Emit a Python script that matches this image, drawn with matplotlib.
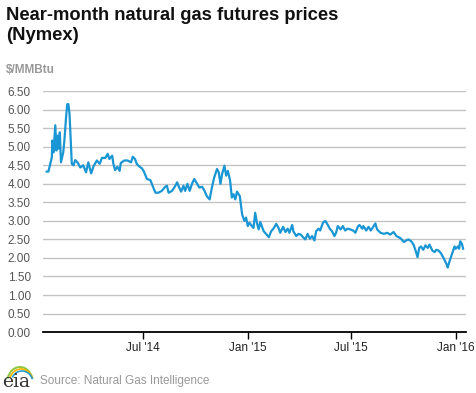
import numpy as np
import pandas as pd
import matplotlib
matplotlib.use("Agg")
import matplotlib.pyplot as plt
from matplotlib.patches import Arc

plt.rcParams['font.family'] = ['Liberation Sans', 'DejaVu Sans']

# days since 2014-01-01
day_offset = [12, 15, 21, 22, 24, 27, 29, 31, 33, 35, 37, 41, 43, 46, 48, 50, 52, 56, 59, 62,
              66, 71, 76, 81, 85, 90, 94, 100, 105, 109, 115, 119, 122, 127, 129, 132, 136, 140, 142, 148,
              154, 160, 163, 167, 170, 175, 179, 182, 188, 194, 199, 203, 208, 214, 220, 223, 226, 232, 236, 241,
              244, 248, 252, 255, 259, 263, 267, 271, 276, 280, 285, 289, 293, 298, 302, 306, 311, 314, 317, 320,
              324, 327, 330, 334, 337, 340, 343, 346, 351, 355, 359, 362, 365, 368, 372, 375, 378, 381, 384, 387,
              390, 393, 398, 402, 406, 410, 415, 419, 422, 427, 431, 435, 438, 443, 445, 450, 454, 458, 462, 466,
              470, 474, 478, 482, 485, 489, 492, 497, 501, 504, 509, 513, 517, 520, 523, 528, 532, 536, 540, 545,
              550, 554, 558, 561, 566, 568, 573, 577, 581, 586, 589, 592, 598, 604, 610, 615, 621, 626, 630, 634,
              639, 643, 647, 652, 656, 660, 663, 666, 669, 673, 677, 681, 684, 689, 693, 696, 700, 704, 709, 714,
              716, 719, 724, 728, 730, 734, 736, 738, 741, 743]
price = [4.33, 4.33, 4.72, 5.17, 4.85, 5.58, 4.90, 5.30, 4.95, 5.39, 4.58, 4.85, 5.17, 5.80, 6.15, 6.15, 5.90, 4.54, 4.50, 4.64,
         4.58, 4.44, 4.50, 4.31, 4.58, 4.28, 4.47, 4.63, 4.54, 4.70, 4.70, 4.81, 4.67, 4.76, 4.54, 4.37, 4.46, 4.35, 4.56, 4.63,
         4.63, 4.58, 4.73, 4.67, 4.54, 4.46, 4.42, 4.35, 4.13, 4.10, 3.90, 3.76, 3.76, 3.81, 3.92, 3.95, 3.76, 3.81, 3.90, 4.04,
         3.92, 3.79, 3.95, 3.81, 4.00, 3.81, 4.00, 4.13, 4.00, 3.90, 3.92, 3.81, 3.67, 3.58, 3.90, 4.17, 4.40, 4.31, 4.00, 4.27,
         4.49, 4.22, 4.35, 4.08, 3.63, 3.72, 3.58, 3.79, 3.67, 3.18, 3.00, 3.09, 2.86, 2.95, 2.86, 2.81, 3.22, 2.95, 2.77, 2.97,
         2.84, 2.72, 2.63, 2.56, 2.72, 2.79, 2.92, 2.81, 2.68, 2.84, 2.70, 2.79, 2.68, 2.89, 2.72, 2.59, 2.65, 2.63, 2.56, 2.50,
         2.65, 2.52, 2.59, 2.47, 2.72, 2.79, 2.74, 2.95, 3.00, 2.93, 2.79, 2.72, 2.59, 2.68, 2.86, 2.77, 2.86, 2.74, 2.79, 2.77,
         2.74, 2.68, 2.84, 2.89, 2.79, 2.86, 2.74, 2.84, 2.74, 2.86, 2.93, 2.77, 2.68, 2.65, 2.68, 2.63, 2.70, 2.59, 2.56, 2.52,
         2.43, 2.47, 2.50, 2.45, 2.36, 2.18, 2.02, 2.27, 2.31, 2.22, 2.34, 2.27, 2.36, 2.20, 2.16, 2.22, 2.20, 2.13, 1.99, 1.83,
         1.74, 1.90, 2.13, 2.31, 2.25, 2.31, 2.25, 2.45, 2.38, 2.25]

y_ticks = np.arange(0, 6.51, 0.5)
x_tick_dates = ['2014-07-01', '2015-01-01', '2015-07-01', '2016-01-01']
x_tick_labels = ["Jul '14", "Jan '15", "Jul '15", "Jan '16"]

dates = pd.Timestamp('2014-01-01') + pd.to_timedelta(day_offset, unit='D')

fig = plt.figure(figsize=(4.77, 3.93), dpi=100)
ax = fig.add_axes([0.0908, 0.155, 0.886, 0.613])

ax.plot(dates, price, color='#1a96d4', linewidth=1.6, solid_joinstyle='round')

ax.set_ylim(0, 6.5)
ax.set_xlim(pd.Timestamp('2014-01-07'), pd.Timestamp('2016-01-19'))
ax.set_yticks(y_ticks)
ax.set_yticklabels(['%.2f' % v for v in y_ticks])
ax.set_xticks(pd.to_datetime(x_tick_dates))
ax.set_xticklabels(x_tick_labels)

ax.grid(axis='y', color='#c4c4c4', linewidth=1)
ax.set_axisbelow(True)
for s in ['top', 'right', 'left']:
    ax.spines[s].set_visible(False)
ax.spines['bottom'].set_color('black')
ax.spines['bottom'].set_linewidth(1.3)
ax.tick_params(axis='y', length=0, pad=9, labelsize=8.5, labelcolor='#555555')
ax.tick_params(axis='x', length=5, width=1, color='black', pad=2, labelsize=8.5, labelcolor='#222222')

fig.text(0.013, 0.948, 'Near-month natural gas futures prices', fontsize=13.2, fontweight='bold',
         color='#111111', va='baseline')
fig.text(0.013, 0.898, '(Nymex)', fontsize=13.2, fontweight='bold', color='#111111', va='baseline')
fig.text(0.013, 0.814, '$/MMBtu', fontsize=8.5, fontweight='bold', color='#999999', va='baseline')

# eia logo and source
fig.text(0.004, 0.004, 'eia', fontsize=13.5, family='DejaVu Serif', color='#333333', va='bottom')
logo_ax = fig.add_axes([0.0, 0.0, 1.0, 1.0], facecolor='none')
logo_ax.set_xlim(0, 477)
logo_ax.set_ylim(0, 393)
logo_ax.axis('off')
logo_ax.add_patch(Arc((20, 10), 26, 32, theta1=20, theta2=160, color='#8dc63f', linewidth=1.4))
logo_ax.add_patch(Arc((21, 10), 24, 28, theta1=20, theta2=155, color='#f2b600', linewidth=1.2))
logo_ax.add_patch(Arc((22, 10), 22, 24, theta1=20, theta2=150, color='#1a96d4', linewidth=1.1))
fig.text(0.084, 0.022, 'Source: Natural Gas Intelligence', fontsize=8.5, color='#999999', va='baseline')

fig.savefig('out.png', dpi=100)
